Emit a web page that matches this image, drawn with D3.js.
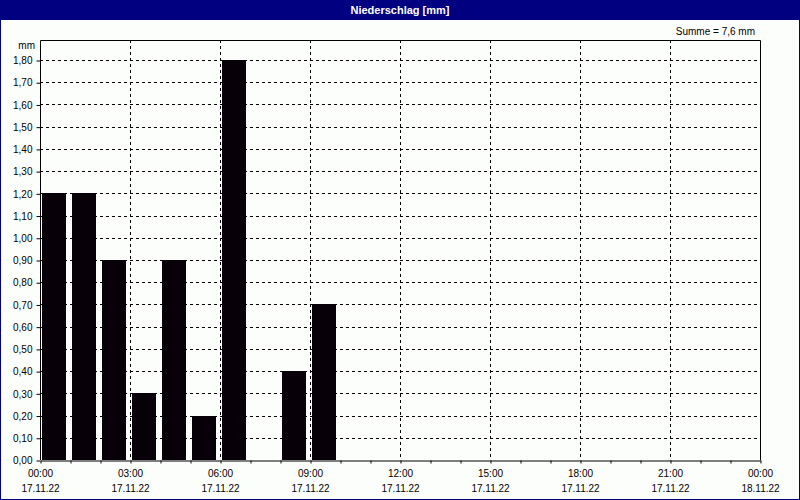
<!DOCTYPE html>
<html><head><meta charset="utf-8">
<script src="https://cdn.jsdelivr.net/npm/d3@7"></script>
<style>html,body{margin:0;padding:0;background:#fff;}svg{display:block;}</style>
</head><body>
<svg id="c" width="800" height="500"></svg>
<script>
const hours = [0,1,2,3,4,5,6,7,8,9];
const values = [1.2,1.2,0.9,0.3,0.9,0.2,1.8,0,0.4,0.7];
const yTicks = [0,0.1,0.2,0.3,0.4,0.5,0.6,0.7,0.8,0.9,1.0,1.1,1.2,1.3,1.4,1.5,1.6,1.7,1.8];
const xTimeLabels = ["00:00","03:00","06:00","09:00","12:00","15:00","18:00","21:00","00:00"];
const xDateLabels = ["17.11.22","17.11.22","17.11.22","17.11.22","17.11.22","17.11.22","17.11.22","17.11.22","18.11.22"];
const title = "Niederschlag [mm]";
const sumText = "Summe = 7,6 mm";
const unit = "mm";

const svg = d3.select("#c");
const font = "'Liberation Sans Narrow', 'Liberation Sans', sans-serif";
const fs = 10;
const L = 40, R = 760, T = 40, B = 460;
const x = d3.scaleLinear().domain([0,24]).range([L,R]);
const y = d3.scaleLinear().domain([0,1.8]).range([B,60]);

svg.append("rect").attr("x",0).attr("y",0).attr("width",800).attr("height",500).attr("fill","#fcfefc");
svg.append("rect").attr("x",0.5).attr("y",0.5).attr("width",799).attr("height",499).attr("fill","none").attr("stroke","#000080").attr("stroke-width",1);
svg.append("rect").attr("x",0).attr("y",0).attr("width",800).attr("height",20).attr("fill","#000080");
svg.append("text").attr("x",400).attr("y",14).attr("text-anchor","middle").attr("fill","#fff")
  .attr("font-family",font).attr("font-size",11).attr("font-weight","bold").text(title);
svg.append("text").attr("x",755).attr("y",35).attr("text-anchor","end").attr("fill","#000")
  .attr("font-family",font).attr("font-size",fs).text(sumText);
svg.append("text").attr("x",35).attr("y",49).attr("text-anchor","end").attr("fill","#000")
  .attr("font-family",font).attr("font-size",fs).text(unit);

svg.append("g").selectAll("line").data(yTicks.filter(d=>d>0)).join("line")
  .attr("x1",L).attr("x2",R).attr("y1",d=>Math.round(y(d))+0.5).attr("y2",d=>Math.round(y(d))+0.5)
  .attr("stroke","#000").attr("stroke-dasharray","3,3");
const majorHours = d3.range(3,24,3);
svg.append("g").selectAll("line").data(majorHours).join("line")
  .attr("x1",d=>Math.round(x(d))+0.5).attr("x2",d=>Math.round(x(d))+0.5).attr("y1",T).attr("y2",B)
  .attr("stroke","#000").attr("stroke-dasharray","3,3");

svg.append("g").selectAll("rect").data(hours.map((h,i)=>({h,v:values[i]})).filter(d=>d.v>0)).join("rect")
  .attr("x",d=>x(d.h)+2).attr("width",24)
  .attr("y",d=>Math.round(y(d.v))).attr("height",d=>B-Math.round(y(d.v)))
  .attr("fill","#080008");

svg.append("path").attr("d",`M${L+0.5},${B}V${T+0.5}H${R+0.5}V${B}`).attr("fill","none").attr("stroke","#000");

const ya = svg.append("g").attr("transform",`translate(${L+0.5},0.5)`)
  .call(d3.axisLeft(y).tickValues(yTicks).tickSize(4).tickSizeOuter(0).tickFormat(d=>d3.format(".2f")(d).replace(".",",")));
ya.select(".domain").remove();
ya.selectAll("text").attr("font-family",font).attr("font-size",fs).attr("fill","#000").attr("dx","-1");
ya.selectAll("line").attr("stroke","#000");

const xa = svg.append("g").attr("transform",`translate(0.5,${B+0.5})`)
  .call(d3.axisBottom(x).tickValues(d3.range(0,25,1)).tickSize(3).tickSizeOuter(0).tickFormat(""));
xa.select(".domain").attr("stroke","#000");
xa.selectAll("line").attr("stroke","#000");
const labG = svg.append("g");
xTimeLabels.forEach((t,i)=>{
  const xx = x(i*3)+0.5;
  labG.append("text").attr("x",xx).attr("y",477).attr("text-anchor","middle").attr("font-family",font).attr("font-size",fs).text(t);
  labG.append("text").attr("x",xx).attr("y",492).attr("text-anchor","middle").attr("font-family",font).attr("font-size",fs).text(xDateLabels[i]);
});
</script>
</body></html>
